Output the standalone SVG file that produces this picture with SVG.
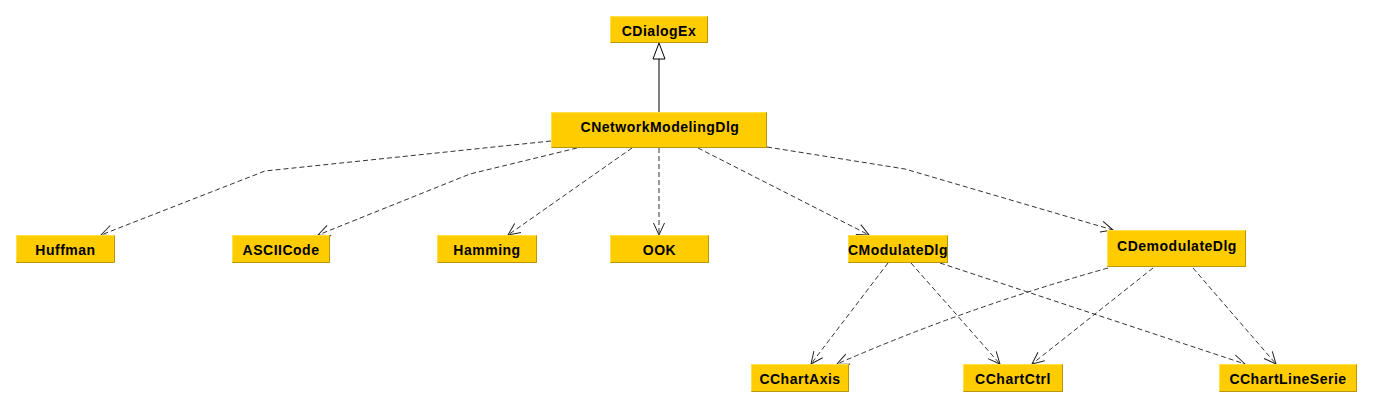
<svg xmlns="http://www.w3.org/2000/svg" width="1374" height="408" viewBox="0 0 1374 408">
<style>
.box{fill:#FFCC00}
.hl{fill:none;stroke:#FFE04A;stroke-width:1}
.sh{fill:none;stroke:#B8960A;stroke-width:1}
.lbl{font-family:"Liberation Sans",Arial,sans-serif;font-weight:bold;font-size:14px;letter-spacing:0.5px;fill:#000;text-anchor:middle}
.dep{fill:none;stroke:#333;stroke-width:1;stroke-dasharray:5,3}
.gen{fill:none;stroke:#000;stroke-width:1}
</style>
<defs>
<marker id="open" markerUnits="userSpaceOnUse" markerWidth="16" markerHeight="16" viewBox="-14 -8 16 16" refX="0" refY="0" orient="auto" overflow="visible">
<path d="M-12,-5.5 L0,0 L-12,5.5" fill="none" stroke="#222" stroke-width="1" stroke-dasharray="none"/>
</marker>
</defs>
<rect width="1374" height="408" fill="#fff"/>
<g id="connectors">
<path class="gen" d="M659,59 L659,112"/>
<path d="M659,43 L653,59 L665,59 Z" fill="#fff" stroke="#000" stroke-width="1"/>
<path class="dep" marker-end="url(#open)" d="M551,141 L265,171 L101,235"/>
<path class="dep" marker-end="url(#open)" d="M577,148 L470,174 L318,235"/>
<path class="dep" marker-end="url(#open)" d="M632,148 L508,235"/>
<path class="dep" marker-end="url(#open)" d="M659,148 L659,235"/>
<path class="dep" marker-end="url(#open)" d="M698,148 L869,235"/>
<path class="dep" marker-end="url(#open)" d="M767,147 L905,169 L1113,230"/>
<path class="dep" marker-end="url(#open)" d="M888,263 L811,364"/>
<path class="dep" marker-end="url(#open)" d="M911,263 L1000,364"/>
<path class="dep" marker-end="url(#open)" d="M940,263 L1245,364"/>
<path class="dep" marker-end="url(#open)" d="M1108,268 Q965,308 837,364"/>
<path class="dep" marker-end="url(#open)" d="M1153,268 L1032,364"/>
<path class="dep" marker-end="url(#open)" d="M1193,268 L1276,364"/>
</g>
<g id="CDialogEx">
<rect class="box" x="610" y="16" width="98" height="27"/>
<path class="hl" d="M610.5,42.5 V16.5 H707.5"/>
<path class="sh" d="M610.5,42.5 H707.5 V16.5"/>
<text class="lbl" x="659" y="36">CDialogEx</text>
</g>
<g id="CNetworkModelingDlg">
<rect class="box" x="551" y="112" width="216" height="36"/>
<path class="hl" d="M551.5,147.5 V112.5 H766.5"/>
<path class="sh" d="M551.5,147.5 H766.5 V112.5"/>
<text class="lbl" x="660" y="132">CNetworkModelingDlg</text>
</g>
<g id="Huffman">
<rect class="box" x="16" y="235" width="99" height="28"/>
<path class="hl" d="M16.5,262.5 V235.5 H114.5"/>
<path class="sh" d="M16.5,262.5 H114.5 V235.5"/>
<text class="lbl" x="65.5" y="255">Huffman</text>
</g>
<g id="ASCIICode">
<rect class="box" x="232" y="235" width="98" height="28"/>
<path class="hl" d="M232.5,262.5 V235.5 H329.5"/>
<path class="sh" d="M232.5,262.5 H329.5 V235.5"/>
<text class="lbl" x="281" y="255">ASCIICode</text>
</g>
<g id="Hamming">
<rect class="box" x="437" y="235" width="100" height="28"/>
<path class="hl" d="M437.5,262.5 V235.5 H536.5"/>
<path class="sh" d="M437.5,262.5 H536.5 V235.5"/>
<text class="lbl" x="487" y="255">Hamming</text>
</g>
<g id="OOK">
<rect class="box" x="610" y="235" width="99" height="28"/>
<path class="hl" d="M610.5,262.5 V235.5 H708.5"/>
<path class="sh" d="M610.5,262.5 H708.5 V235.5"/>
<text class="lbl" x="659.5" y="255">OOK</text>
</g>
<g id="CModulateDlg">
<rect class="box" x="848" y="235" width="100" height="28"/>
<path class="hl" d="M848.5,262.5 V235.5 H947.5"/>
<path class="sh" d="M848.5,262.5 H947.5 V235.5"/>
<text class="lbl" x="898" y="255">CModulateDlg</text>
</g>
<g id="CDemodulateDlg">
<rect class="box" x="1107" y="230" width="139" height="37"/>
<path class="hl" d="M1107.5,266.5 V230.5 H1245.5"/>
<path class="sh" d="M1107.5,266.5 H1245.5 V230.5"/>
<text class="lbl" x="1177" y="250.5">CDemodulateDlg</text>
</g>
<g id="CChartAxis">
<rect class="box" x="751" y="364" width="98" height="28"/>
<path class="hl" d="M751.5,391.5 V364.5 H848.5"/>
<path class="sh" d="M751.5,391.5 H848.5 V364.5"/>
<text class="lbl" x="800" y="384">CChartAxis</text>
</g>
<g id="CChartCtrl">
<rect class="box" x="963" y="364" width="100" height="28"/>
<path class="hl" d="M963.5,391.5 V364.5 H1062.5"/>
<path class="sh" d="M963.5,391.5 H1062.5 V364.5"/>
<text class="lbl" x="1013" y="384">CChartCtrl</text>
</g>
<g id="CChartLineSerie">
<rect class="box" x="1219" y="364" width="138" height="28"/>
<path class="hl" d="M1219.5,391.5 V364.5 H1356.5"/>
<path class="sh" d="M1219.5,391.5 H1356.5 V364.5"/>
<text class="lbl" x="1288" y="384">CChartLineSerie</text>
</g>
</svg>
